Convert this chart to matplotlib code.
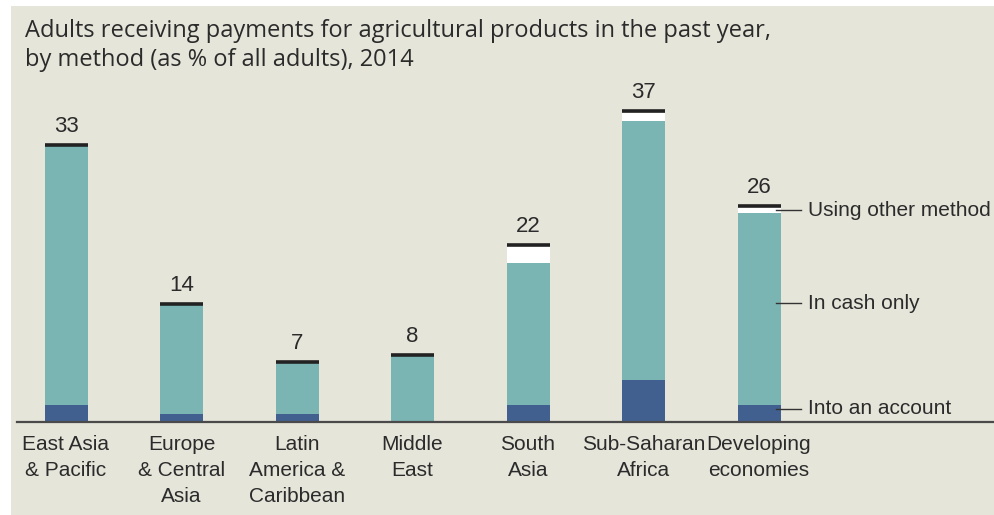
import matplotlib
matplotlib.use("Agg")
import matplotlib.pyplot as plt
from matplotlib.patches import Rectangle
import numpy as np

# values (% of all adults)
regions = ["East Asia\n& Pacific", "Europe\n& Central\nAsia", "Latin\nAmerica &\nCaribbean",
           "Middle\nEast", "South\nAsia", "Sub-Saharan\nAfrica", "Developing\neconomies"]
account = [2, 1, 1, 0, 2, 5, 2]
cash = [31, 13, 6, 7.9, 17, 31, 23]
other = [0, 0, 0, 0, 2, 1, 0.7]
totals = [33, 14, 7, 8, 22, 37, 26]
series_names = ["Into an account", "In cash only", "Using other method"]

BG = "#e6e5da"
DARK = "#41608f"
TEAL = "#7ab5b4"
TXT = "#2b2b2b"
COND = ["Liberation Sans Narrow", "Liberation Sans", "DejaVu Sans"]

W, H = 994, 515
fig = plt.figure(figsize=(W / 100, H / 100), dpi=100, facecolor="white")
fig.patches.append(Rectangle((11 / W, 0), 1 - 11 / W, 1 - 6 / H, transform=fig.transFigure,
                             facecolor=BG, edgecolor="none", zorder=-10))

fig.text(25 / W, 1 - 66 / H, "Adults receiving payments for agricultural products in the past year,\n"
         "by method (as % of all adults), 2014", family=["Open Sans", "DejaVu Sans"],
         fontsize=17, color=TXT, va="baseline", ha="left", linespacing=1.27)

# axes: baseline at y=422px, 8.36 px per percentage point, bars every 115.5 px starting at 66 px
base_px = 422
top_px = 90
left_px = 17
ax = fig.add_axes([left_px / W, (H - base_px) / H, 1 - left_px / W, (base_px - top_px) / H])
ax.set_facecolor("none")
ax.set_xlim((left_px - 66) / 115.5, (W - 66) / 115.5)
ax.set_ylim(0, (base_px - top_px) / 8.36)

x = np.arange(len(regions))
w = 43 / 115.5
acc = np.array(account, dtype=float)
csh = np.array(cash, dtype=float)
oth = np.array(other, dtype=float)
ax.bar(x, acc, w, color=DARK, zorder=2)
ax.bar(x, csh, w, bottom=acc, color=TEAL, zorder=2)
ax.bar(x, oth, w, bottom=acc + csh, color="white", zorder=2)
tops = acc + csh + oth
ax.hlines(tops + 0.15, x - w / 2, x + w / 2, color="#222222", lw=2.6, zorder=3)
for xi, t, lab in zip(x, tops, totals):
    ax.text(xi, t + 1.1, str(lab), ha="center", va="bottom", fontsize=16,
            family=COND, color=TXT)

# series labels beside the last bar
last = len(regions) - 1
mids = [acc[last] * 0.8, acc[last] + csh[last] * 0.53, tops[last] - oth[last] / 2]
x0 = x[last] + w / 2
for name, ym in zip(series_names, mids):
    ax.plot([x0 - 0.04, x0 + 0.18], [ym, ym], color="#333333", lw=1, zorder=3)
    ax.text(x0 + 0.235, ym, name, ha="left", va="center", fontsize=15,
            family=COND, color=TXT)

ax.set_xticks(x)
ax.set_xticklabels(regions, fontsize=15, family=COND, color=TXT, linespacing=1.5)
ax.tick_params(axis="x", length=0, pad=9)
ax.set_yticks([])
for s in ["top", "right", "left"]:
    ax.spines[s].set_visible(False)
ax.spines["bottom"].set_color("#4a4a4a")
ax.spines["bottom"].set_linewidth(1.6)

fig.savefig("out.png", dpi=100, facecolor="white")
